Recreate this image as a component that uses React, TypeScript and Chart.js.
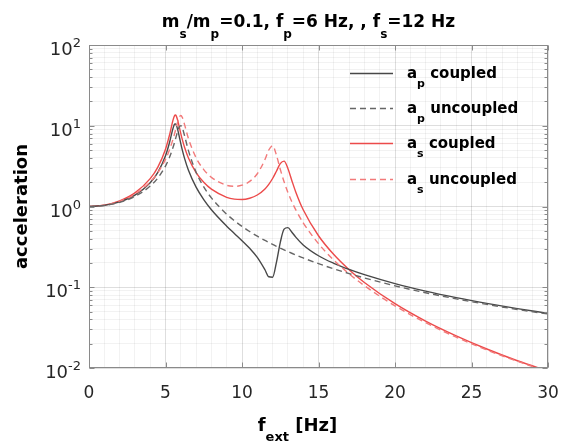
import React, { useEffect, useRef } from 'react';
import { Chart, registerables } from 'chart.js';

Chart.register(...registerables);

// ---- data ----
const freq = [0, 1, 2, 3, 4, 4.5, 5, 5.25, 5.5, 5.6, 5.65, 5.7, 5.8, 5.9, 6, 6.1, 6.25, 6.5, 7, 7.5, 8, 9, 9.5, 10, 10.5, 11, 11.5, 11.75, 12, 12.25, 12.5, 12.75, 13, 13.25, 13.5, 14, 15, 16, 17, 18, 20, 22, 24, 26, 28, 30];

const apCoupled = [1, 1.032, 1.139, 1.381, 1.965, 2.642, 4.237, 6.078, 9.407, 10.48, 10.56, 10.27, 8.905, 7.324, 6.003, 4.992, 3.916, 2.816, 1.736, 1.216, 0.9118, 0.5712, 0.464, 0.3778, 0.3036, 0.2343, 0.1646, 0.1348, 0.1331, 0.203, 0.3577, 0.524, 0.5477, 0.4841, 0.4204, 0.3341, 0.2456, 0.1978, 0.1661, 0.143, 0.1109, 0.0896, 0.0744, 0.0631, 0.0544, 0.0475];

const apUncoupled = [1, 1.029, 1.125, 1.332, 1.791, 2.259, 3.168, 4.012, 5.453, 6.311, 6.819, 7.379, 8.602, 9.686, 10.05, 9.387, 7.476, 4.915, 2.653, 1.749, 1.278, 0.8032, 0.6682, 0.5678, 0.4905, 0.4293, 0.3799, 0.3589, 0.3392, 0.3215, 0.3052, 0.2903, 0.2765, 0.2637, 0.2519, 0.2307, 0.1961, 0.1692, 0.1478, 0.1304, 0.1042, 0.0856, 0.0718, 0.0613, 0.0531, 0.0466];

const asCoupled = [1, 1.039, 1.172, 1.473, 2.211, 3.074, 5.126, 7.515, 11.91, 13.4, 13.57, 13.26, 11.62, 9.656, 8.001, 6.729, 5.371, 3.984, 2.63, 1.993, 1.638, 1.3, 1.235, 1.222, 1.266, 1.389, 1.652, 1.882, 2.222, 2.736, 3.395, 3.651, 2.961, 2.119, 1.537, 0.9105, 0.4341, 0.2538, 0.165, 0.1146, 0.0626, 0.0381, 0.025, 0.0172, 0.0123, 0.00915];

const asUncoupled = [1, 1.036, 1.157, 1.421, 2.015, 2.629, 3.833, 4.961, 6.901, 8.067, 8.759, 9.526, 11.22, 12.77, 13.4, 12.65, 10.25, 6.953, 4.018, 2.867, 2.297, 1.828, 1.778, 1.836, 2.045, 2.545, 3.812, 5.009, 5.663, 4.333, 2.897, 2.023, 1.495, 1.154, 0.9213, 0.6288, 0.3465, 0.2171, 0.1468, 0.1045, 0.0588, 0.0364, 0.0241, 0.0167, 0.0121, 0.00897];

const xTickLabels = [0, 5, 10, 15, 20, 25, 30];
const xMinorGrid = [0, 1, 2, 3, 4, 5, 6, 7, 8, 9, 10, 11, 12, 13, 14, 15, 16, 17, 18, 19, 20, 21, 22, 23, 24, 25, 26, 27, 28, 29, 30];
const yTickExponents = [-2, -1, 0, 1, 2];
const yMantissas = [1, 2, 3, 4, 5, 6, 7, 8, 9];

// ---- styling ----
const FONT = '"DejaVu Sans", "Liberation Sans", sans-serif';
const AXIS_COLOR = '#8a8a8a';
const TEXT_COLOR = '#262626';
const BLACK_SOLID = '#484848';
const BLACK_DASH = '#666666';
const RED_SOLID = '#ec4a4a';
const RED_DASH = '#f27a7a';
const DASH = [6, 4];

type Seg = { t: string; s?: 'sub' | 'sup' };

const seriesDefs = [
  { label: [{ t: 'a' }, { t: 'p', s: 'sub' }, { t: ' coupled' }] as Seg[], data: apCoupled, color: BLACK_SOLID, dash: [] as number[] },
  { label: [{ t: 'a' }, { t: 'p', s: 'sub' }, { t: ' uncoupled' }] as Seg[], data: apUncoupled, color: BLACK_DASH, dash: DASH },
  { label: [{ t: 'a' }, { t: 's', s: 'sub' }, { t: ' coupled' }] as Seg[], data: asCoupled, color: RED_SOLID, dash: [] as number[] },
  { label: [{ t: 'a' }, { t: 's', s: 'sub' }, { t: ' uncoupled' }] as Seg[], data: asUncoupled, color: RED_DASH, dash: DASH },
];

const titleSegs: Seg[] = [
  { t: 'm' }, { t: 's', s: 'sub' }, { t: '/m' }, { t: 'p', s: 'sub' }, { t: '=0.1, f' }, { t: 'p', s: 'sub' },
  { t: '=6 Hz, , f' }, { t: 's', s: 'sub' }, { t: '=12 Hz' },
];
const xTitleSegs: Seg[] = [{ t: 'f' }, { t: 'ext', s: 'sub' }, { t: ' [Hz]' }];
const yTitle = 'acceleration';

type RichOpts = { main: number; small: number; bold: boolean; subDy: number; supDy: number; align: 'left' | 'center' | 'right'; color: string };

function fontFor(seg: Seg, o: RichOpts) {
  const size = seg.s ? o.small : o.main;
  return `${o.bold ? 'bold ' : ''}${size}px ${FONT}`;
}

function measureRich(ctx: CanvasRenderingContext2D, segs: Seg[], o: RichOpts) {
  let w = 0;
  for (const seg of segs) {
    ctx.font = fontFor(seg, o);
    w += ctx.measureText(seg.t).width;
  }
  return w;
}

function drawRich(ctx: CanvasRenderingContext2D, segs: Seg[], x: number, y: number, o: RichOpts) {
  const w = measureRich(ctx, segs, o);
  let cx = o.align === 'left' ? x : o.align === 'center' ? x - w / 2 : x - w;
  ctx.fillStyle = o.color;
  ctx.textAlign = 'left';
  ctx.textBaseline = 'alphabetic';
  for (const seg of segs) {
    ctx.font = fontFor(seg, o);
    const dy = seg.s === 'sub' ? o.subDy : seg.s === 'sup' ? -o.supDy : 0;
    ctx.fillText(seg.t, cx, y + dy);
    cx += ctx.measureText(seg.t).width;
  }
}

const decorPlugin = {
  id: 'decor',
  afterDatasetsDraw(chart: any) {
    const { ctx, chartArea: a, scales } = chart;
    const xs = scales.x;
    const ys = scales.y;
    ctx.save();

    // box
    ctx.strokeStyle = AXIS_COLOR;
    ctx.lineWidth = 1;
    ctx.setLineDash([]);
    const L = Math.round(a.left) + 0.5;
    const R = Math.round(a.right) - 0.5;
    const T = Math.round(a.top) + 0.5;
    const B = Math.round(a.bottom) - 0.5;
    ctx.strokeRect(L, T, R - L, B - T);

    // inner ticks (x major, top & bottom)
    ctx.beginPath();
    for (const v of xTickLabels) {
      const px = Math.round(xs.getPixelForValue(v)) + 0.5;
      ctx.moveTo(px, B); ctx.lineTo(px, B - 5);
      ctx.moveTo(px, T); ctx.lineTo(px, T + 5);
    }
    // y ticks (major + minor), left & right
    for (let i = 0; i < yTickExponents.length; i++) {
      const e = yTickExponents[i];
      const ms = i === yTickExponents.length - 1 ? [1] : yMantissas;
      for (const m of ms) {
        const v = m * Math.pow(10, e);
        const py = Math.round(ys.getPixelForValue(v)) + 0.5;
        const len = m === 1 ? 5 : 3;
        ctx.moveTo(L, py); ctx.lineTo(L + len, py);
        ctx.moveTo(R, py); ctx.lineTo(R - len, py);
      }
    }
    ctx.stroke();

    // x tick labels
    ctx.fillStyle = TEXT_COLOR;
    ctx.font = `17px ${FONT}`;
    ctx.textAlign = 'center';
    ctx.textBaseline = 'alphabetic';
    for (const v of xTickLabels) {
      ctx.fillText(String(v), xs.getPixelForValue(v), a.bottom + 30);
    }

    // y tick labels 10^e
    for (const e of yTickExponents) {
      const py = ys.getPixelForValue(Math.pow(10, e));
      drawRich(ctx, [{ t: '10' }, { t: String(e), s: 'sup' }], a.left - 8, py + 10,
        { main: 18, small: 13, bold: false, subDy: 0, supDy: 8, align: 'right', color: TEXT_COLOR });
    }

    // title
    const cx = (a.left + a.right) / 2;
    drawRich(ctx, titleSegs, cx - 10, 27, { main: 17, small: 12, bold: true, subDy: 11, supDy: 0, align: 'center', color: '#000' });

    // x axis title
    drawRich(ctx, xTitleSegs, cx - 21, 431, { main: 18, small: 13, bold: true, subDy: 10, supDy: 0, align: 'center', color: '#000' });

    // y axis title
    ctx.save();
    ctx.translate(22, (a.top + a.bottom) / 2);
    ctx.rotate(-Math.PI / 2);
    ctx.font = `bold 18px ${FONT}`;
    ctx.fillStyle = '#000';
    ctx.textAlign = 'center';
    ctx.textBaseline = 'middle';
    ctx.fillText(yTitle, 0, 0);
    ctx.restore();

    // legend
    const rowY0 = 73;
    const rowStep = 35.2;
    seriesDefs.forEach((s, i) => {
      const y = Math.round(rowY0 + i * rowStep) + 0.5;
      ctx.strokeStyle = s.color;
      ctx.lineWidth = 1.3;
      ctx.setLineDash(s.dash);
      ctx.beginPath();
      ctx.moveTo(350, y);
      ctx.lineTo(393, y);
      ctx.stroke();
      ctx.setLineDash([]);
      drawRich(ctx, s.label, 407, y + 4.5, { main: 15, small: 11, bold: true, subDy: 9, supDy: 0, align: 'left', color: '#000' });
    });

    ctx.restore();
  },
};

export default function App() {
  const canvasRef = useRef<HTMLCanvasElement | null>(null);

  useEffect(() => {
    const canvas = canvasRef.current;
    if (!canvas) return;

    const yGrid: number[] = [];
    yTickExponents.forEach((e, i) => {
      const ms = i === yTickExponents.length - 1 ? [1] : yMantissas;
      ms.forEach((m) => yGrid.push(m * Math.pow(10, e)));
    });

    const isMajorY = (v: number) => {
      const l = Math.log10(v);
      return Math.abs(l - Math.round(l)) < 1e-6;
    };

    const chart = new Chart(canvas, {
      type: 'line',
      data: {
        datasets: [seriesDefs[1], seriesDefs[3], seriesDefs[0], seriesDefs[2]].map((s) => ({
          data: freq.map((f, i) => ({ x: f, y: s.data[i] })),
          borderColor: s.color,
          borderWidth: 1.4,
          borderDash: s.dash,
          pointRadius: 0,
          fill: false,
          cubicInterpolationMode: 'monotone' as const,
        })),
      },
      options: {
        responsive: false,
        animation: false,
        devicePixelRatio: 1,
        events: [],
        layout: { padding: { top: 45, right: 23, left: 0, bottom: 0 } },
        plugins: {
          legend: { display: false },
          title: { display: false },
          tooltip: { enabled: false },
        },
        scales: {
          x: {
            type: 'linear',
            min: 0,
            max: 30,
            ticks: { display: false },
            afterBuildTicks: (s: any) => { s.ticks = xMinorGrid.map((v) => ({ value: v })); },
            afterFit: (s: any) => { s.height = 80; },
            grid: {
              drawTicks: false,
              lineWidth: 1,
              color: (c: any) => (c.tick && c.tick.value % 5 === 0 ? 'rgba(0,0,0,0.13)' : 'rgba(0,0,0,0.05)'),
            },
            border: { display: false },
          },
          y: {
            type: 'logarithmic',
            min: 0.01,
            max: 100,
            ticks: { display: false },
            afterBuildTicks: (s: any) => { s.ticks = yGrid.map((v) => ({ value: v })); },
            afterFit: (s: any) => { s.width = 89; },
            grid: {
              drawTicks: false,
              lineWidth: 1,
              color: (c: any) => (c.tick && isMajorY(c.tick.value) ? 'rgba(0,0,0,0.13)' : 'rgba(0,0,0,0.05)'),
            },
            border: { display: false },
          },
        },
      },
      plugins: [decorPlugin],
    } as any);

    return () => chart.destroy();
  }, []);

  return (
    <div style={{ position: 'fixed', left: 0, top: 0, width: 571, height: 448, background: '#ffffff' }}>
      <canvas ref={canvasRef} width={571} height={448} style={{ width: 571, height: 448, display: 'block' }} />
    </div>
  );
}
